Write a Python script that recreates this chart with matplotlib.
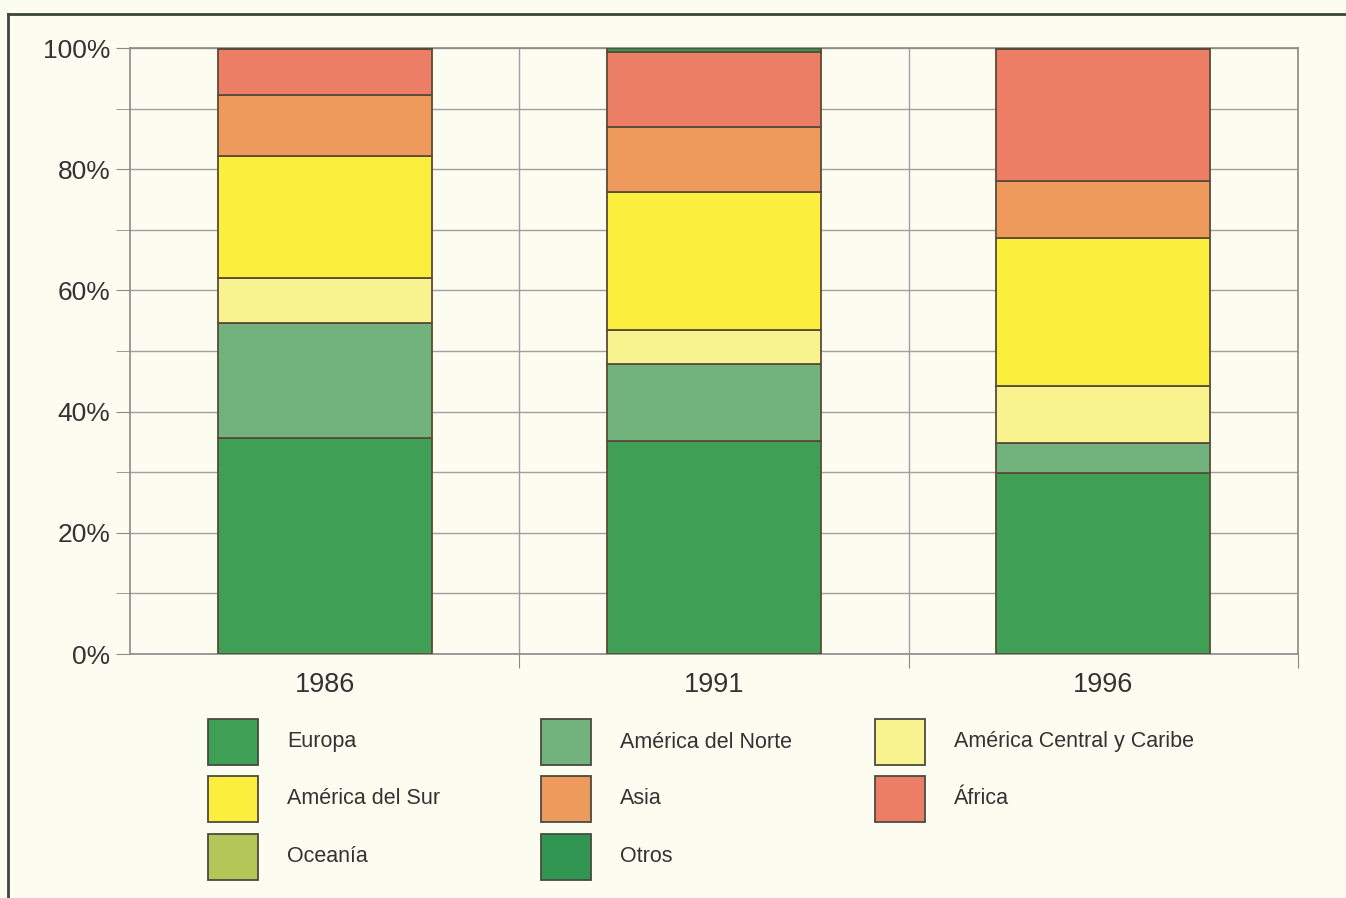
import matplotlib
matplotlib.use("Agg")
import matplotlib.pyplot as plt
from matplotlib.patches import Rectangle
from matplotlib.lines import Line2D
import numpy as np

plt.rcParams['font.family'] = ['Liberation Sans', 'DejaVu Sans']

# datos (porcentaje de cada región por año)
years = ["1986", "1991", "1996"]
regions = ["Europa", "América del Norte", "América Central y Caribe",
           "América del Sur", "Asia", "África", "Oceanía", "Otros"]
europa = [35.6, 35.1, 29.8]
am_norte = [19.0, 12.7, 5.0]
am_central = [7.4, 5.6, 9.4]
am_sur = [20.2, 22.8, 24.5]
asia = [10.0, 10.8, 9.3]
africa = [7.6, 12.3, 21.8]
oceania = [0.1, 0.1, 0.1]
otros = [0.1, 0.6, 0.1]
series = [europa, am_norte, am_central, am_sur, asia, africa, oceania, otros]
colors = ["#3f9f55", "#72b27c", "#f8f38e", "#fbee3c", "#ee9a5c",
          "#ec7e66", "#b5c658", "#2f9550"]

bg = "#fcfcf0"
fig = plt.figure(figsize=(13.46, 8.98), dpi=100, facecolor=bg)
ax = fig.add_axes([0.0966, 0.2717, 0.8677, 0.6748], facecolor=bg)

x = np.arange(len(years))
bottom = np.zeros(len(years))
for vals, c in zip(series, colors):
    ax.bar(x, vals, 0.55, bottom=bottom, color=c, edgecolor="#5b4a38",
           linewidth=1.3, zorder=3)
    bottom += np.array(vals)

ax.set_xlim(-0.5, 2.5)
ax.set_ylim(0, 100)
ax.set_yticks(np.arange(0, 101, 20))
ax.set_yticklabels([f"{v}%" for v in range(0, 101, 20)])
ax.set_yticks(np.arange(0, 101, 10), minor=True)
ax.set_xticks([0.5, 1.5, 2.5])
ax.set_xticklabels([])
ax.set_xticks(x, minor=True)
ax.set_xticklabels(years, minor=True)

ax.grid(True, which="both", axis="y", color="#a0a0a0", linewidth=1, zorder=0)
ax.grid(True, which="major", axis="x", color="#a0a0a0", linewidth=1, zorder=0)
for s in ax.spines.values():
    s.set_color("#8a8a8a")
    s.set_linewidth(1.2)
ax.tick_params(axis="y", which="both", direction="out", length=10,
               color="#8a8a8a", labelsize=19, labelcolor="#333333", pad=4)
ax.tick_params(axis="x", which="major", direction="out", length=10,
               color="#8a8a8a")
ax.tick_params(axis="x", which="minor", length=0, labelsize=19.5,
               labelcolor="#333333", pad=13)

# leyenda manual en 3 columnas
col_x = [208, 541, 875]
row_y = [742, 799, 857]
W, H = 1346.0, 898.0
for i, (name, c) in enumerate(zip(regions, colors)):
    r, k = i // 3, i % 3
    x0 = col_x[k] / W
    y0 = 1 - (row_y[r] + 23) / H
    fig.patches.append(Rectangle((x0, y0), 50 / W, 46 / H, facecolor=c,
                                 edgecolor="#4a4a40", linewidth=1.3,
                                 transform=fig.transFigure))
    fig.text((col_x[k] + 79) / W, 1 - row_y[r] / H, name, fontsize=15.5,
             color="#333333", va="center", ha="left")

# marco del recuadro
fig.add_artist(Line2D([8 / W, 8 / W], [0, 1 - 14 / H], transform=fig.transFigure,
                      color="#3c463c", linewidth=2))
fig.add_artist(Line2D([8 / W, 1], [1 - 14 / H, 1 - 14 / H], transform=fig.transFigure,
                      color="#3c463c", linewidth=2))

fig.savefig("out.png", dpi=100, facecolor=bg)
